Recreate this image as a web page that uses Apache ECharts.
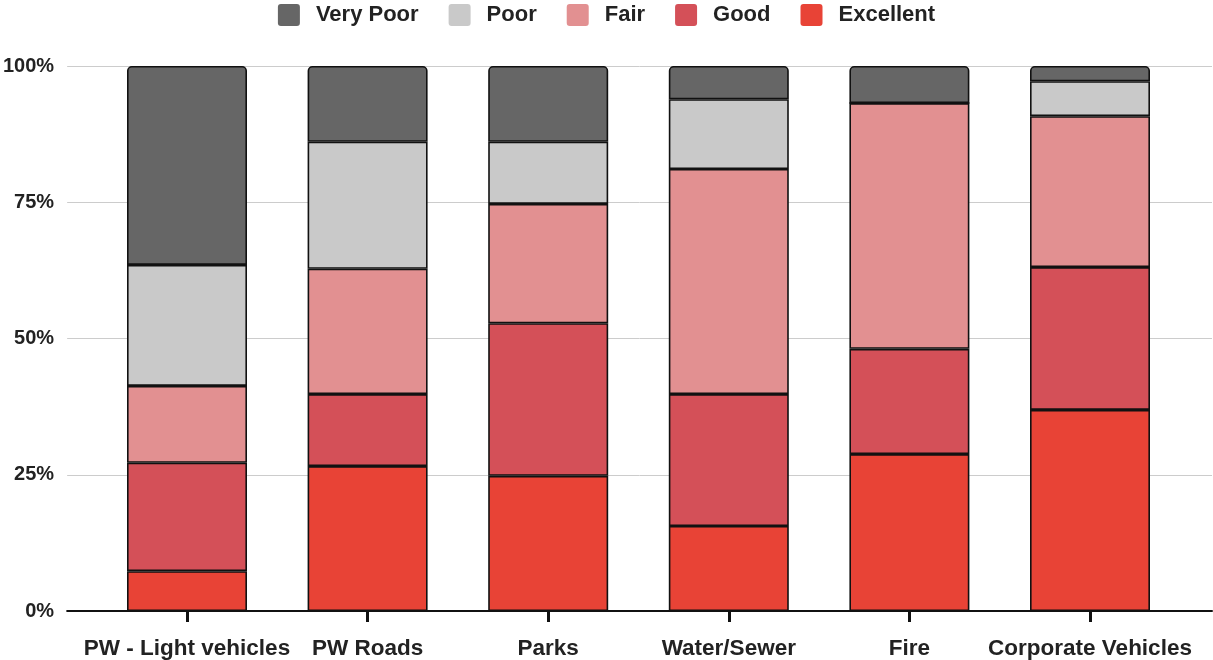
<!DOCTYPE html>
<html>
<head>
<meta charset="utf-8">
<script src="https://cdn.jsdelivr.net/npm/echarts@6/dist/echarts.min.js"></script>
<style>
  html, body { margin: 0; padding: 0; background: #fff; }
  #chart { width: 1213px; height: 660px; }
</style>
</head>
<body>
<div id="chart"></div>
<script>
// Asset condition by department, share of assets in each rating (%)
const categories = ['PW - Light vehicles', 'PW Roads', 'Parks', 'Water/Sewer', 'Fire', 'Corporate Vehicles'];
const ratings = ['Very Poor', 'Poor', 'Fair', 'Good', 'Excellent'];

const veryPoor  = [36.5, 13.9, 13.9,  6.1,  6.8,  2.8];
const poor      = [22.2, 23.3, 11.4, 12.8,  0.0,  6.4];
const fair      = [14.1, 23.0, 21.9, 41.3, 45.1, 27.7];
const good      = [19.9, 13.2, 28.0, 24.2, 19.3, 26.2];
const excellent = [ 7.3, 26.6, 24.8, 15.6, 28.8, 36.9];

const yTicks = [0, 25, 50, 75, 100];

const colors = {
  'Very Poor': '#666666',
  'Poor': '#c9c9c9',
  'Fair': '#e29091',
  'Good': '#d45058',
  'Excellent': '#e84336'
};

// stacked bottom-up: Excellent first, Very Poor on top
const stackOrder = [
  ['Excellent', excellent],
  ['Good', good],
  ['Fair', fair],
  ['Poor', poor],
  ['Very Poor', veryPoor]
];

const font = 'Liberation Sans, Arial, sans-serif';
const TOP = 66, BOTTOM = 49;

const chart = echarts.init(document.getElementById('chart'), null, { renderer: 'canvas' });

const series = stackOrder.map(([name, vals]) => ({
  name: name,
  type: 'bar',
  stack: 'total',
  barWidth: 120,
  xAxisIndex: 0,
  yAxisIndex: 0,
  data: vals,
  itemStyle: {
    color: colors[name],
    borderColor: '#111',
    borderWidth: 1.6,
    borderRadius: name === 'Very Poor' ? [4, 4, 0, 0] : 0
  },
  emphasis: { disabled: true }
}));

const yRange = { type: 'value', min: yTicks[0], max: yTicks[yTicks.length - 1], interval: 25 };

chart.setOption({
  animation: false,
  legend: {
    data: ratings.map(n => ({ name: n, itemStyle: { borderWidth: 0 } })),
    top: 4,
    left: 'center',
    padding: 0,
    itemWidth: 22,
    itemHeight: 22,
    itemGap: 30,
    icon: 'path://M3,0 H19 Q22,0 22,3 V19 Q22,22 19,22 H3 Q0,22 0,19 V3 Q0,0 3,0 Z',
    textStyle: { fontFamily: font, fontSize: 22, fontWeight: 'bold', color: '#222', padding: [0, 0, 0, 11] }
  },
  grid: [
    // bar area: category bands
    { left: 96.7, right: 32.7, top: TOP, bottom: BOTTOM, containLabel: false },
    // full-width frame: gridlines, axis line, percent labels
    { left: 65, right: 1, top: TOP, bottom: BOTTOM, containLabel: false }
  ],
  xAxis: [
    {
      type: 'category', gridIndex: 0, data: categories, boundaryGap: true,
      axisLine: { show: false },
      axisTick: { show: true, alignWithLabel: true, length: 11, lineStyle: { color: '#111', width: 3 } },
      axisLabel: { margin: 26, fontFamily: font, fontSize: 22.5, fontWeight: 'bold', color: '#222', interval: 0 }
    },
    {
      type: 'category', gridIndex: 0, data: categories, boundaryGap: true, position: 'bottom',
      axisLine: { show: false },
      axisTick: { show: true, inside: true, alignWithLabel: true, length: 10, lineStyle: { color: '#111', width: 3 } },
      axisLabel: { show: false }
    },
    {
      type: 'value', gridIndex: 1, min: 0, max: 1,
      axisLine: { show: true, onZero: false, lineStyle: { color: '#111', width: 2 } },
      axisTick: { show: false }, axisLabel: { show: false }, splitLine: { show: false }
    }
  ],
  yAxis: [
    Object.assign({ gridIndex: 0, show: false, splitLine: { show: false } }, yRange),
    Object.assign({ gridIndex: 1 }, yRange, {
      axisLine: { show: false },
      axisTick: { show: false },
      splitLine: { show: true, lineStyle: { color: '#cccccc', width: 1 } },
      axisLabel: {
        margin: 13,
        fontFamily: font, fontSize: 20, fontWeight: 'bold', color: '#222',
        formatter: '{value}%'
      }
    })
  ],
  series: series
});
</script>
</body>
</html>
